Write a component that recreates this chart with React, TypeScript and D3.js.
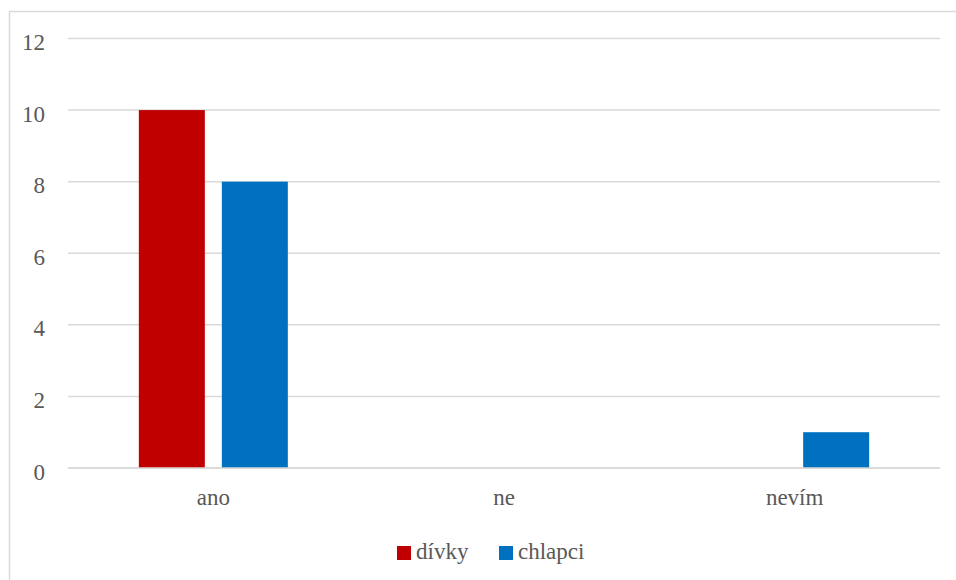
import React from "react";
import * as d3 from "d3";

const categories = ["ano", "ne", "nevím"];
const seriesNames = ["dívky", "chlapci"];
const divky = [10, 0, 0];
const chlapci = [8, 0, 1];
const yTicks = [0, 2, 4, 6, 8, 10, 12];
const colors = ["#C00000", "#0070C0"];

const W = 956;
const H = 580;

export default function App() {
  const plotLeft = 68;
  const plotRight = 940;
  const y = d3.scaleLinear().domain([0, 12]).range([468, 38.5]);
  const x0 = d3.scaleBand().domain(categories).range([plotLeft, plotRight]).paddingInner(0).paddingOuter(0);
  const barW = 66;
  const gap = 17;
  const series = [divky, chlapci];
  const font = "Liberation Serif, Times New Roman, serif";
  const fs = 23;
  const textColor = "#595959";

  return (
    <div style={{ position: "fixed", left: 0, top: 0 }}>
      <svg width={W} height={H} style={{ display: "block", background: "#fff" }}>
        <rect x={9.5} y={11.5} width={W + 10} height={H + 10} fill="#fff" stroke="#d9d9d9" strokeWidth={1.5} />
        {yTicks.map((t) => (
          <g key={t}>
            <line x1={plotLeft} x2={plotRight} y1={y(t)} y2={y(t)} stroke="#d9d9d9" strokeWidth={1.5} />
            <text x={45} y={y(t) + 11.5} textAnchor="end" fontFamily={font} fontSize={fs} fill={textColor}>
              {t}
            </text>
          </g>
        ))}
        {categories.map((c, i) => {
          const center = (x0(c) as number) + x0.bandwidth() / 2;
          const groupW = barW * 2 + gap;
          return (
            <g key={c}>
              {series.map((s, si) => {
                const v = s[i];
                if (!v) return null;
                const bx = center - groupW / 2 + si * (barW + gap);
                return <rect key={si} x={bx} y={y(v)} width={barW} height={y(0) - y(v)} fill={colors[si]} />;
              })}
              <text x={center} y={505} textAnchor="middle" fontFamily={font} fontSize={fs} fill={textColor}>
                {c}
              </text>
            </g>
          );
        })}
        <line x1={plotLeft} x2={plotRight} y1={y(0)} y2={y(0)} stroke="#d9d9d9" strokeWidth={1.5} />
        {seriesNames.map((n, i) => {
          const lx = i === 0 ? 397 : 499;
          return (
            <g key={n}>
              <rect x={lx} y={546} width={14} height={14} fill={colors[i]} />
              <text x={lx + 19} y={559} fontFamily={font} fontSize={fs} fill={textColor}>
                {n}
              </text>
            </g>
          );
        })}
      </svg>
    </div>
  );
}
